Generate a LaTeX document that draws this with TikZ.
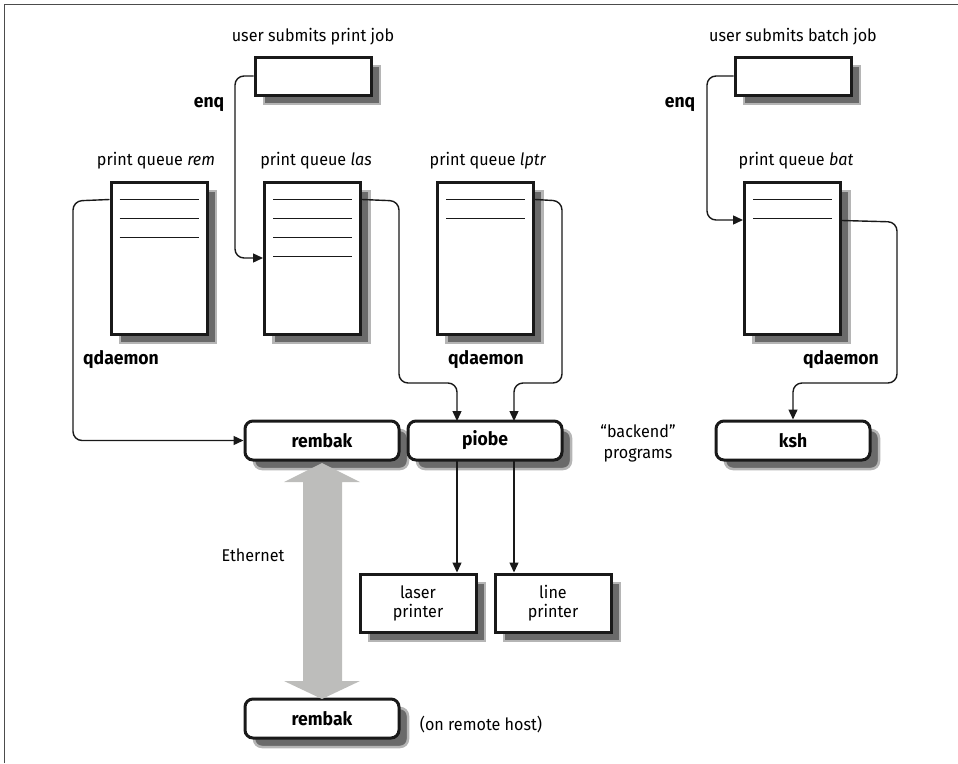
\documentclass[tikz,border=0pt]{standalone}
\usepackage{fontspec}
\setmainfont[FakeStretch=0.95]{Fira Sans}
\usetikzlibrary{shadows,arrows.meta}
\definecolor{shd}{HTML}{6A6A6A}
\definecolor{shdl}{HTML}{B5B5B5}
\definecolor{ethgray}{HTML}{BDBDBB}
\tikzset{
  x=1pt, y=-1pt,
  sh/.style={general shadow={shadow xshift=9pt, shadow yshift=-9pt, fill=shd, draw=shdl, line width=2.5pt}},
  box/.style={draw=black!90, line width=3pt, fill=white, inner sep=0pt, sh, align=center, font=\fontsize{17}{19}\selectfont},
  qbox/.style={box, minimum width=96pt, minimum height=152pt},
  jbox/.style={box, minimum width=116pt, minimum height=38pt},
  pbox/.style={box, minimum width=116pt, minimum height=58pt},
  rbox/.style={box, rounded corners=8pt, minimum width=154pt, minimum height=39pt, font=\fontsize{18.5}{20}\selectfont\bfseries},
  lbl/.style={font=\fontsize{17}{19}\selectfont, inner sep=0pt},
  blbl/.style={font=\fontsize{18.5}{20}\selectfont\bfseries, inner sep=0pt},
  conn/.style={draw=black!90, line width=1.4pt, rounded corners=9pt},
  arr/.style={conn, -{Triangle[length=10pt,width=9pt]}},
  qline/.style={draw=black!90, line width=1.4pt}
}
\begin{document}
\begin{tikzpicture}
\useasboundingbox (0,0) rectangle (958,763);
% frame
\draw[draw=black!70, line width=1.8pt] (4.5,763) -- (4.5,4.5) -- (958,4.5);

% submit boxes
\node[lbl] (tP) at (313,37) {user submits print job};
\node[jbox] (jobP) at (313,76) {};
\node[lbl] (tB) at (793,37) {user submits batch job};
\node[jbox] (jobB) at (793,76) {};

% queues
\node[lbl] (trem) at (156,161) {print queue \textit{rem}};
\node[qbox] (qrem) at (159,258) {};
\node[lbl] (tlas) at (316,161) {print queue \textit{las}};
\node[qbox] (qlas) at (312.5,258) {};
\node[lbl] (tlptr) at (488,161) {print queue \textit{lptr}};
\node[qbox] (qlptr) at (485.5,258) {};
\node[lbl] (tbat) at (796,161) {print queue \textit{bat}};
\node[qbox] (qbat) at (792.5,258) {};

% lines inside queues
\foreach \q in {qrem,qlas,qlptr,qbat}{
  \draw[qline] ([xshift=10pt,yshift=-19pt]\q.north west) -- ([xshift=-10pt,yshift=-19pt]\q.north east);
  \draw[qline] ([xshift=10pt,yshift=-38pt]\q.north west) -- ([xshift=-10pt,yshift=-38pt]\q.north east);
}
\foreach \q in {qrem,qlas}{
  \draw[qline] ([xshift=10pt,yshift=-57pt]\q.north west) -- ([xshift=-10pt,yshift=-57pt]\q.north east);
}
\draw[qline] ([xshift=10pt,yshift=-76pt]qlas.north west) -- ([xshift=-10pt,yshift=-76pt]qlas.north east);

% backend boxes
\node[rbox] (rembak) at (322,440.5) {rembak};
\node[rbox] (piobe) at (485,440.5) {piobe};
\node[rbox] (ksh) at (793,440.5) {ksh};
\node[lbl, align=center, font=\fontsize{17}{21}\selectfont] (backend) at (638,443) {``backend''\\programs};

% printers
\node[pbox] (laser) at (418,603) {laser\\printer};
\node[pbox] (linep) at (553,603) {line\\printer};

% remote
\node[rbox] (rembak2) at (322,718.5) {rembak};
\node[lbl] (remote) at (481,725) {(on remote host)};

% ethernet double arrow
\fill[ethgray] (322,463) -- (360,482) -- (342,482) -- (342,681) -- (360,681) -- (322,699) -- (284,681) -- (303,681) -- (303,482) -- (284,482) -- cycle;
\node[lbl] (eth) at (253,555) {Ethernet};

% labels
\node[blbl] (enq1) at (209,104) {enq};
\node[blbl] (enq2) at (680,104) {enq};
\node[blbl] (qd1) at (121,360) {qdaemon};
\node[blbl] (qd2) at (486,360) {qdaemon};
\node[blbl] (qd3) at (841,360) {qdaemon};

% connectors
\draw[arr] (jobP.west) -- (235,76) -- (235,258) -- (qlas.west |- 0,258);
\draw[arr] (jobB.west) -- (707,76) -- (707,220) -- (qbat.west |- 0,220);
\draw[arr] ([yshift=-19pt]qrem.north west) -- (73,201) -- (73,440.5) -- (rembak.west);
\draw[arr] ([yshift=-19pt]qlas.north east) -- (399,201) -- (399,383) -- (457,383) -- (457,421);
\draw[arr] ([yshift=-19pt]qlptr.north east) -- (562,201) -- (562,383) -- (514,383) -- (514,421);
\draw[arr] ([yshift=-40pt]qbat.north east) -- (897,222) -- (897,383) -- (793,383) -- (ksh.north);
\draw[arr] (457,460) -- (laser.north -| 457,0);
\draw[arr] (514,460) -- (linep.north -| 514,0);
\end{tikzpicture}
\end{document}
